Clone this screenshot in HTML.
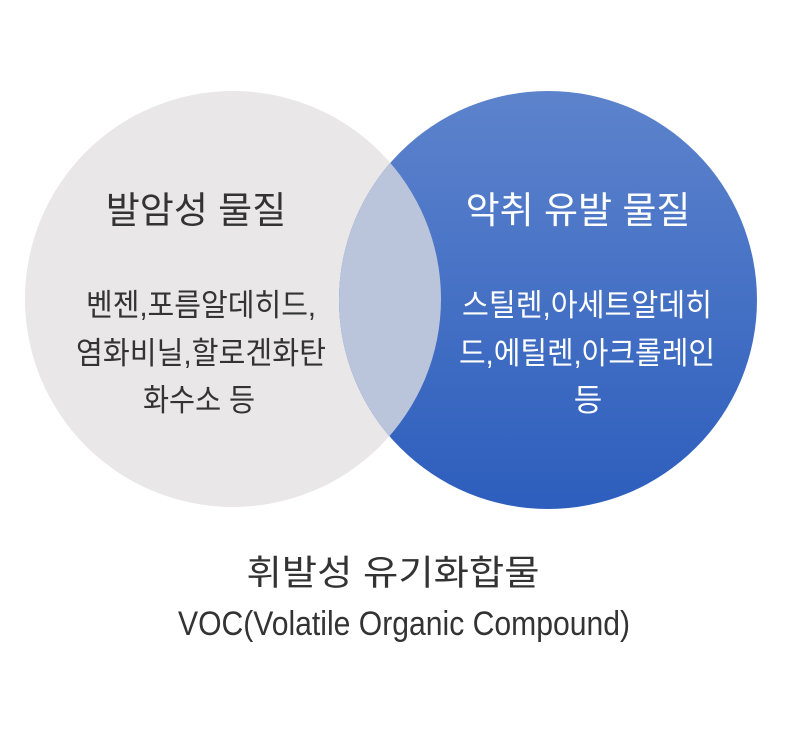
<!DOCTYPE html>
<html><head><meta charset="utf-8"><style>
html,body{margin:0;padding:0;background:#fff;}
svg text{font-family:"Liberation Sans","Noto Sans CJK KR",sans-serif;}
</style></head><body>
<svg width="786" height="729" viewBox="0 0 786 729" xmlns="http://www.w3.org/2000/svg">
<defs>
<linearGradient id="g" x1="0" y1="0" x2="0" y2="1">
<stop offset="0" stop-color="#5d83cc"/>
<stop offset="1" stop-color="#2d5ebd"/>
</linearGradient>
<clipPath id="cl"><circle cx="233" cy="299" r="208"/></clipPath>
</defs>
<rect width="786" height="729" fill="#fff"/>
<circle cx="233" cy="299" r="208" fill="#e9e7e8"/>
<circle cx="548" cy="300" r="209" fill="url(#g)"/>
<circle cx="548" cy="300" r="209" fill="#bac4db" clip-path="url(#cl)"/>
<g font-family="Noto Sans CJK KR" text-anchor="middle">
<text x="196" y="223" font-size="37" fill="#333">발암성 물질</text>
<text x="578" y="223" font-size="37" fill="#fff">악취 유발 물질</text>
<g font-size="31" fill="#333">
<text x="201" y="316" textLength="230" lengthAdjust="spacingAndGlyphs">벤젠,포름알데히드,</text>
<text x="201" y="364" textLength="250" lengthAdjust="spacingAndGlyphs">염화비닐,할로겐화탄</text>
<text x="199" y="411" textLength="112" lengthAdjust="spacingAndGlyphs">화수소 등</text>
</g>
<g font-size="31" fill="#fff">
<text x="587" y="316" textLength="250" lengthAdjust="spacingAndGlyphs">스틸렌,아세트알데히</text>
<text x="587" y="364" textLength="256" lengthAdjust="spacingAndGlyphs">드,에틸렌,아크롤레인</text>
<text x="588" y="411">등</text>
</g>
<text x="393" y="585" font-size="35" fill="#333" textLength="293" lengthAdjust="spacingAndGlyphs">휘발성 유기화합물</text>
<text x="404" y="635" font-size="34" fill="#333" textLength="452" lengthAdjust="spacingAndGlyphs">VOC(Volatile Organic Compound)</text>
</g>
</svg>
</body></html>
